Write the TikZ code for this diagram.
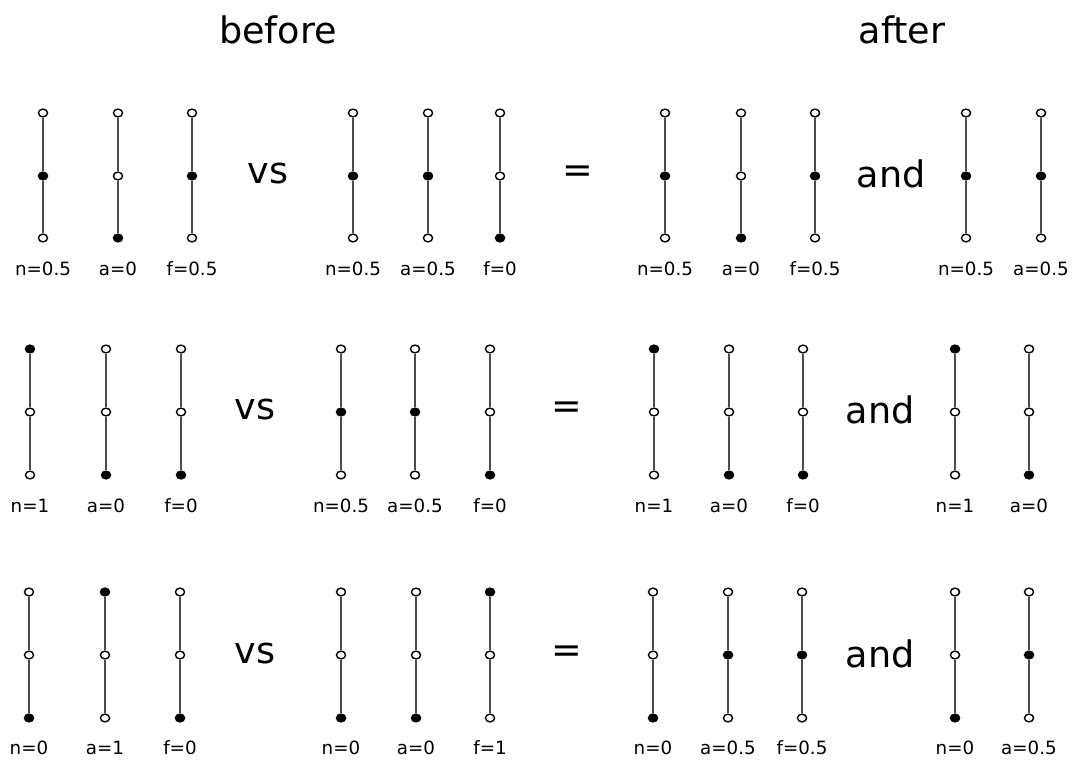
\documentclass[tikz,border=0pt]{standalone}
\usepackage{fontspec}
\setmainfont{DejaVu Sans}
\usetikzlibrary{shapes.geometric}

\tikzset{
  hollow/.style={draw, ellipse, fill=white, line width=1pt, inner sep=0pt, minimum width=6.5pt, minimum height=5.5pt},
  solid/.style={draw, ellipse, fill=black, line width=1pt, inner sep=0pt, minimum width=6.5pt, minimum height=5.5pt},
  stem/.style={draw=black!70, line width=1.5pt},
  caption/.style={font=\fontsize{13}{15}\selectfont},
  bigword/.style={font=\fontsize{26}{30}\selectfont}
}

\begin{document}
\begin{tikzpicture}[x=0.025cm, y=-0.025cm]
  \useasboundingbox (0,0) rectangle (1076,760);
  \node[bigword] (before) at (278,30) {before};
  \node[bigword] (after) at (902,30) {after};

  % first row
  \foreach \x/\t/\m/\b/\lab [count=\i] in {43/hollow/solid/hollow/{n=0.5}, 118/hollow/hollow/solid/{a=0}, 192/hollow/solid/hollow/{f=0.5},
      353/hollow/solid/hollow/{n=0.5}, 428/hollow/solid/hollow/{a=0.5}, 500/hollow/hollow/solid/{f=0},
      665/hollow/solid/hollow/{n=0.5}, 741/hollow/hollow/solid/{a=0}, 815/hollow/solid/hollow/{f=0.5},
      966/hollow/solid/hollow/{n=0.5}, 1041/hollow/solid/hollow/{a=0.5}} {
    \node[\t] (ra\i t) at (\x,113) {};
    \node[\m] (ra\i m) at (\x,176) {};
    \node[\b] (ra\i b) at (\x,238) {};
    \draw[stem] (ra\i t) -- (ra\i m);
    \draw[stem] (ra\i m) -- (ra\i b);
    \node[caption] (ra\i l) at (\x,269) {\lab};
  }
  \node[bigword] (vsa) at (268,174) {vs};
  \node[bigword] (eqa) at (578,174) {=};
  \node[bigword] (anda) at (891,174) {and};

  % second row
  \foreach \x/\t/\m/\b/\lab [count=\i] in {30/solid/hollow/hollow/{n=1}, 106/hollow/hollow/solid/{a=0}, 181/hollow/hollow/solid/{f=0},
      341/hollow/solid/hollow/{n=0.5}, 415/hollow/solid/hollow/{a=0.5}, 490/hollow/hollow/solid/{f=0},
      654/solid/hollow/hollow/{n=1}, 729/hollow/hollow/solid/{a=0}, 803/hollow/hollow/solid/{f=0},
      955/solid/hollow/hollow/{n=1}, 1029/hollow/hollow/solid/{a=0}} {
    \node[\t] (rb\i t) at (\x,349) {};
    \node[\m] (rb\i m) at (\x,412) {};
    \node[\b] (rb\i b) at (\x,475) {};
    \draw[stem] (rb\i t) -- (rb\i m);
    \draw[stem] (rb\i m) -- (rb\i b);
    \node[caption] (rb\i l) at (\x,506) {\lab};
  }
  \node[bigword] (vsb) at (255,410) {vs};
  \node[bigword] (eqb) at (567,410) {=};
  \node[bigword] (andb) at (880,410) {and};

  % third row
  \foreach \x/\t/\m/\b/\lab [count=\i] in {29/hollow/hollow/solid/{n=0}, 105/solid/hollow/hollow/{a=1}, 180/hollow/hollow/solid/{f=0},
      341/hollow/hollow/solid/{n=0}, 416/hollow/hollow/solid/{a=0}, 490/solid/hollow/hollow/{f=1},
      653/hollow/hollow/solid/{n=0}, 728/hollow/solid/hollow/{a=0.5}, 802/hollow/solid/hollow/{f=0.5},
      955/hollow/hollow/solid/{n=0}, 1029/hollow/solid/hollow/{a=0.5}} {
    \node[\t] (rc\i t) at (\x,592) {};
    \node[\m] (rc\i m) at (\x,655) {};
    \node[\b] (rc\i b) at (\x,718) {};
    \draw[stem] (rc\i t) -- (rc\i m);
    \draw[stem] (rc\i m) -- (rc\i b);
    \node[caption] (rc\i l) at (\x,748) {\lab};
  }
  \node[bigword] (vsc) at (255,654) {vs};
  \node[bigword] (eqc) at (567,654) {=};
  \node[bigword] (andc) at (880,654) {and};
\end{tikzpicture}
\end{document}
